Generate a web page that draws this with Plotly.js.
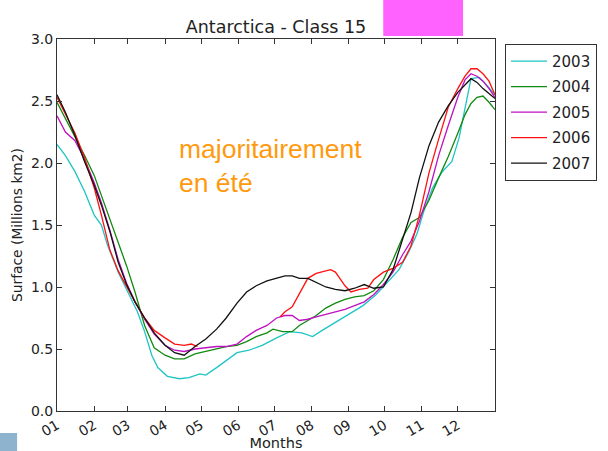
<!DOCTYPE html>
<html>
<head>
<meta charset="utf-8">
<script src="https://cdn.plot.ly/plotly-3.0.1.min.js"></script>
<style>html,body{margin:0;padding:0;background:#fff;}#chart{width:608px;height:451px;}</style>
</head>
<body>
<div id="chart"></div>
<script>
// Month tick positions (day of year) and labels
const monthStarts = [0, 31, 59, 90, 120, 151, 181, 212, 243, 273, 304, 334];
const monthLabels = ["01","02","03","04","05","06","07","08","09","10","11","12"];
const yTicks = [0, 0.5, 1.0, 1.5, 2.0, 2.5, 3.0];

const seriesNames = ["2003", "2004", "2005", "2006", "2007"];

// 2003
const days2003 = [0,7,15,23,31,37,42,51,59,67,73,79,84,92,102,110,119,124,133,141,150,160,171,183,194,204,213,221,233,244,255,266,277,285,293,300,306,313,321,329,335,341,345,352,358,365];
const vals2003 = [2.15,2.06,1.93,1.77,1.58,1.50,1.34,1.12,0.96,0.80,0.64,0.45,0.35,0.28,0.26,0.27,0.30,0.29,0.35,0.41,0.47,0.49,0.53,0.59,0.64,0.63,0.60,0.65,0.72,0.79,0.85,0.94,1.06,1.14,1.28,1.43,1.62,1.80,1.93,2.01,2.20,2.49,2.68,2.69,2.63,2.55];

// 2004
const days2004 = [0,7,15,23,31,37,44,51,58,65,73,81,90,98,106,115,124,133,141,150,158,166,175,180,188,196,202,209,216,224,232,240,248,256,264,272,280,288,295,302,310,318,326,334,340,345,350,355,360,365];
const vals2004 = [2.49,2.36,2.22,2.06,1.90,1.74,1.56,1.37,1.17,0.96,0.69,0.51,0.45,0.42,0.42,0.46,0.48,0.50,0.52,0.53,0.56,0.60,0.63,0.66,0.64,0.64,0.69,0.73,0.77,0.83,0.87,0.90,0.92,0.93,0.97,1.06,1.22,1.40,1.52,1.56,1.70,1.88,2.05,2.24,2.39,2.48,2.53,2.54,2.49,2.43];

// 2005
const days2005 = [0,7,15,23,31,37,44,51,58,65,73,81,90,98,106,115,124,133,141,150,158,166,175,183,190,196,202,209,216,224,232,240,248,256,264,272,280,288,295,302,310,318,326,334,340,345,350,355,360,365];
const vals2005 = [2.38,2.25,2.18,2.03,1.84,1.68,1.46,1.22,1.03,0.88,0.74,0.62,0.53,0.49,0.48,0.50,0.51,0.52,0.52,0.54,0.60,0.65,0.69,0.75,0.77,0.77,0.73,0.74,0.76,0.78,0.80,0.82,0.85,0.88,0.94,1.02,1.12,1.26,1.37,1.53,1.77,2.06,2.30,2.53,2.67,2.72,2.70,2.66,2.60,2.53];

// 2006 (gap in the record between late April and early July)
const days2006 = [0,7,15,23,31,37,44,51,58,65,73,81,90,98,106,112,117,118,186,190,196,202,209,216,224,228,232,240,245,252,259,264,272,280,288,295,302,310,318,326,334,340,345,350,355,360,365];
const vals2006 = [2.53,2.39,2.24,2.04,1.80,1.58,1.30,1.13,1.00,0.88,0.75,0.65,0.59,0.54,0.53,0.54,0.52,null,0.76,0.80,0.84,0.95,1.07,1.11,1.13,1.14,1.12,1.01,0.96,0.98,0.99,1.06,1.12,1.15,1.20,1.33,1.58,1.92,2.19,2.45,2.60,2.70,2.76,2.76,2.72,2.66,2.55];

// 2007
const days2007 = [0,7,15,23,31,37,44,51,58,65,73,81,90,98,106,115,124,133,141,150,158,166,175,183,190,196,202,209,216,224,232,240,248,256,264,272,280,288,295,302,310,318,326,334,340,345,350,355,360,365];
const vals2007 = [2.55,2.41,2.22,2.01,1.82,1.66,1.45,1.20,1.02,0.88,0.75,0.63,0.53,0.47,0.45,0.52,0.58,0.66,0.75,0.87,0.96,1.01,1.05,1.07,1.09,1.09,1.07,1.07,1.04,1.00,0.98,0.97,0.99,1.02,0.99,1.00,1.14,1.38,1.60,1.88,2.14,2.33,2.46,2.57,2.63,2.68,2.65,2.60,2.56,2.52];

const allDays = [days2003, days2004, days2005, days2006, days2007];
const allVals = [vals2003, vals2004, vals2005, vals2006, vals2007];
const colors = ["#1fc4c4", "#108a10", "#c010c0", "#ff1010", "#111111"];

const annotationText = "majoritairement<br>en été";
const titleText = "Antarctica - Class 15";
const xTitle = "Months";
const yTitle = "Surface (Millions km2)";

const FONT = "DejaVu Sans, Verdana, sans-serif";

const traces = seriesNames.map((name, i) => ({
  type: "scatter",
  mode: "lines",
  name: name,
  x: allDays[i],
  y: allVals[i],
  connectgaps: false,
  legendgroup: name,
  line: {color: colors[i], width: 1.3},
  hoverinfo: "skip"
}));

const layout = {
  width: 608,
  height: 451,
  margin: {l: 57, r: 112, t: 39, b: 40, pad: 0},
  paper_bgcolor: "#ffffff",
  plot_bgcolor: "#ffffff",
  font: {family: FONT, color: "#222", size: 14},
  showlegend: true,
  title: {
    text: titleText,
    font: {family: FONT, size: 17.5, color: "#222"},
    x: 0.5, xref: "paper", xanchor: "center",
    y: 1 - 27/451, yref: "container", yanchor: "middle"
  },
  xaxis: {
    range: [0, 365],
    tickmode: "array",
    tickvals: monthStarts,
    ticktext: monthLabels,
    tickangle: -30,
    ticks: "inside",
    ticklen: 5,
    tickcolor: "#333",
    showline: true,
    linecolor: "#333",
    linewidth: 1,
    mirror: "ticks",
    showgrid: false,
    zeroline: false,
    tickfont: {family: FONT, size: 14, color: "#222"},
    title: {text: xTitle, font: {family: FONT, size: 14.5, color: "#222"}, standoff: 1}
  },
  yaxis: {
    range: [0, 3],
    tickmode: "array",
    tickvals: yTicks,
    tickformat: ".1f",
    ticks: "inside",
    ticklen: 5,
    tickcolor: "#333",
    showline: true,
    linecolor: "#333",
    linewidth: 1,
    mirror: "ticks",
    showgrid: false,
    zeroline: false,
    tickfont: {family: FONT, size: 14, color: "#222"},
    title: {text: yTitle, font: {family: FONT, size: 13.8, color: "#222"}, standoff: 5}
  },
  legend: {
    x: (505 - 57) / 439, xanchor: "left",
    y: 0.987, yanchor: "top",
    bordercolor: "#333", borderwidth: 1,
    bgcolor: "#ffffff",
    font: {family: FONT, size: 15, color: "#222"},
    tracegroupgap: 3,
    traceorder: "grouped",
    itemwidth: 36
  },
  annotations: [{
    text: annotationText,
    xref: "paper", yref: "paper",
    x: (177 - 57) / 439, xanchor: "left",
    y: (411 - 132) / 372, yanchor: "top",
    align: "left",
    showarrow: false,
    font: {family: "Liberation Sans, Arial, sans-serif", size: 26.5, color: "#ff9a10"}
  }],
  shapes: [
    {type: "rect", xref: "paper", yref: "paper",
     x0: (384 - 57) / 439, x1: (464 - 57) / 439,
     y0: (411 - 36) / 372, y1: (411 + 2) / 372 + 0.2,
     fillcolor: "#ff62ff", line: {width: 0}, layer: "above"},
    {type: "rect", xref: "paper", yref: "paper",
     x0: -57 / 439 - 0.01, x1: (17 - 57) / 439,
     y0: (411 - 455) / 372, y1: (411 - 433) / 372,
     fillcolor: "#8db3cf", line: {width: 0}, layer: "below"}
  ]
};

Plotly.newPlot("chart", traces, layout, {displayModeBar: false, staticPlot: true});
</script>
</body>
</html>
